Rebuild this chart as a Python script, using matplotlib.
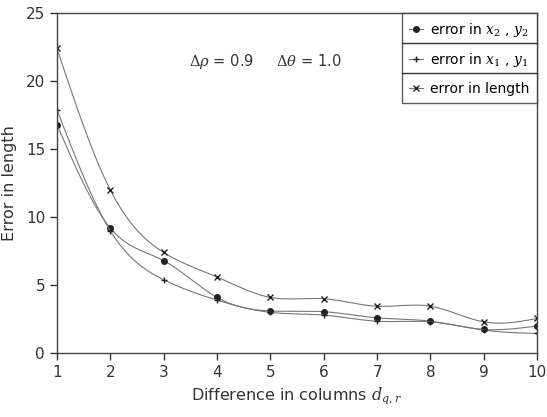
import numpy as np
import matplotlib
matplotlib.use("Agg")
import matplotlib.pyplot as plt
from matplotlib.lines import Line2D

plt.rcParams['font.family'] = ['DejaVu Sans']
plt.rcParams['mathtext.fontset'] = 'dejavuserif'

columns = [1, 2, 3, 4, 5, 6, 7, 8, 9, 10]
err_x2y2 = [16.8, 9.2, 6.8, 4.1, 3.1, 3.05, 2.6, 2.35, 1.75, 2.0]
err_x1y1 = [17.9, 9.0, 5.4, 3.9, 3.0, 2.8, 2.35, 2.3, 1.7, 1.45]
err_length = [22.4, 12.0, 7.4, 5.6, 4.1, 4.0, 3.45, 3.45, 2.3, 2.55]
labels = [r"error in $x_2$ , $y_2$", r"error in $x_1$ , $y_1$", "error in length"]
markers = ["o", "+", "x"]


def smooth(x, y, n=300):
    # natural cubic spline through the points (rendering only)
    x = np.asarray(x, float); y = np.asarray(y, float)
    k = len(x); h = np.diff(x)
    A = np.zeros((k, k)); b = np.zeros(k)
    A[0, 0] = A[-1, -1] = 1
    for i in range(1, k - 1):
        A[i, i - 1] = h[i - 1]; A[i, i] = 2 * (h[i - 1] + h[i]); A[i, i + 1] = h[i]
        b[i] = 3 * ((y[i + 1] - y[i]) / h[i] - (y[i] - y[i - 1]) / h[i - 1])
    c = np.linalg.solve(A, b)
    xs = np.linspace(x[0], x[-1], n); ys = np.empty_like(xs)
    for j, xv in enumerate(xs):
        i = min(np.searchsorted(x, xv, side='right') - 1, k - 2)
        dx = xv - x[i]
        bi = (y[i + 1] - y[i]) / h[i] - h[i] * (2 * c[i] + c[i + 1]) / 3
        di = (c[i + 1] - c[i]) / (3 * h[i])
        ys[j] = y[i] + bi * dx + c[i] * dx ** 2 + di * dx ** 3
    return xs, ys


fig = plt.figure(figsize=(5.47, 4.17), dpi=100)
ax = fig.add_axes([0.104, 0.153, 0.878, 0.816])

lc = "#777777"
for ys, m in zip([err_x2y2, err_x1y1, err_length], markers):
    sx, sy = smooth(columns, ys)
    ax.plot(sx, sy, color=lc, lw=0.8)
    ax.plot(columns, ys, linestyle='none', marker=m, color="#222222",
            markersize=4 if m == "o" else 5, markeredgewidth=1.0)

ax.set_xlim(1, 10)
ax.set_ylim(0, 25)
ax.set_xticks(columns)
ax.set_yticks([0, 5, 10, 15, 20, 25])
ax.tick_params(direction='out', length=5, width=1, labelsize=11, colors="#333333")
for s in ax.spines.values():
    s.set_linewidth(1.0)
    s.set_color("#444444")

ax.set_xlabel(r"Difference in columns $d_{q,r}$", fontsize=11.5, color="#333333", labelpad=4)
ax.set_ylabel("Error in length", fontsize=11.5, color="#333333", labelpad=6)

ax.text(4.9, 21.4, r"$\Delta\rho$ = 0.9     $\Delta\theta$ = 1.0", fontsize=10.5,
        ha='center', va='center', color="#333333")

# boxed legend with row separators
handles = [Line2D([], [], color=lc, lw=0.8, marker=m, markersize=4,
                  markerfacecolor="#222222", markeredgecolor="#222222") for m in markers]
leg = ax.legend(handles, labels, loc='upper right', fontsize=10, frameon=True,
                fancybox=False, edgecolor="#333333", handlelength=1.0,
                handletextpad=0.5, labelspacing=0.9, borderpad=0.55,
                borderaxespad=0.0)
leg.get_frame().set_linewidth(1.0)
fig.canvas.draw()
bb = leg.get_window_extent().transformed(ax.transAxes.inverted())
for frac in (1/3, 2/3):
    yy = bb.y0 + frac * (bb.y1 - bb.y0)
    ax.plot([bb.x0, bb.x1], [yy, yy], transform=ax.transAxes, color="#333333",
            lw=1.0, clip_on=False, zorder=10)

fig.savefig("out.png", dpi=100)
